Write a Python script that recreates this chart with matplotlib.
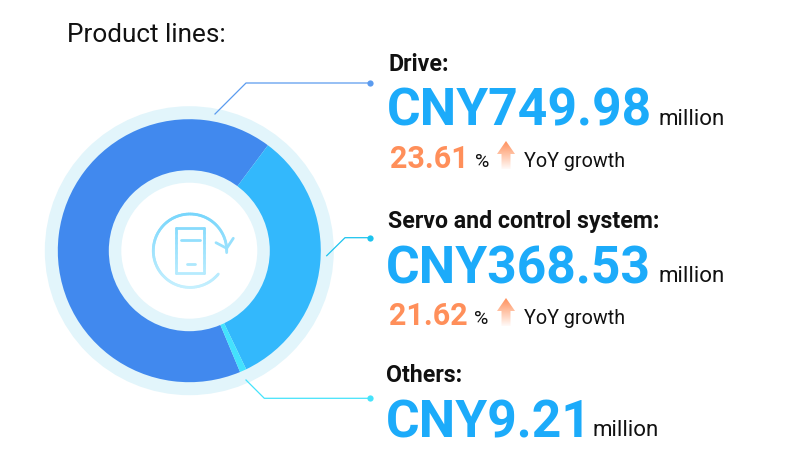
import numpy as np
import matplotlib.pyplot as plt
from matplotlib.patches import Circle, Polygon
from matplotlib.collections import LineCollection
from matplotlib.colors import to_rgb

plt.rcParams["font.family"] = ["Roboto", "DejaVu Sans"]

# Product line revenue, CNY million
products = ["Drive", "Servo and control system", "Others"]
revenue = [749.98, 368.53, 9.21]
revenue_labels = ["CNY749.98", "CNY368.53", "CNY9.21"]
growth_labels = ["23.61", "21.62"]
ring_colors = ["#4189EE", "#33B8FC", "#44E2FD"]

H = 470


def py(y):
    # picture y (top down) to axes y
    return H - y


fig = plt.figure(figsize=(8, 4.7), dpi=100)
ax = fig.add_axes([0, 0, 1, 1])

cx, cy = 189.3, py(250.7)

# rings behind and in the middle of the donut
ax.add_patch(Circle((cx, cy), 144.5, color="#E2F5FB", lw=0, zorder=1))
ax.pie(revenue, colors=ring_colors, center=(cx, cy), radius=131.5,
       startangle=90 - 157.3, counterclock=False, frame=True,
       wedgeprops={"lw": 0, "zorder": 2})
ax.add_patch(Circle((cx, cy), 80.5, color="#E2F5FB", lw=0, zorder=3))
ax.add_patch(Circle((cx, cy), 68, color="white", lw=0, zorder=4))


def icon_color(y):
    # icon fades downwards
    t = np.clip((y - 214) / (288 - 214), 0, 1)
    top, bottom = np.array(to_rgb("#78D6FC")), np.array(to_rgb("#C6F0FE"))
    return top + (bottom - top) * t


def icon_line(xs, ys):
    xs, ys = np.asarray(xs, float), np.asarray(ys, float)
    pts = np.column_stack([xs, py(ys)])
    segs = np.stack([pts[:-1], pts[1:]], axis=1)
    cols = [icon_color(v) for v in (ys[:-1] + ys[1:]) / 2]
    ax.add_collection(LineCollection(segs, colors=cols, lw=2.0, zorder=5,
                                     capstyle="round"))


# center icon, angles clockwise from north
a = np.radians(np.linspace(93, -230.5, 120))
icon_line(190 + 36.7 * np.sin(a), 250.7 - 36.7 * np.cos(a))
icon_line([216, 226.7, 233.3], [242.7, 248.3, 238.3])
icon_line(np.full(10, 175.7), np.linspace(228.3, 272.7, 10))
icon_line(np.full(10, 204.3), np.linspace(228.3, 272.7, 10))
icon_line([175.7, 204.3], [228.3, 228.3])
icon_line([175.7, 204.3], [272.7, 272.7])
icon_line([181, 200], [240, 240])
icon_line([186.5, 194.5], [264, 264])

# leader lines and their end dots
leaders = [
    ([215, 246, 370], [114, 83, 83], "#5B9BEF"),
    ([326.7, 345, 370], [255.7, 237.7, 237.7], "#1BC3EE"),
    ([246, 264.3, 370], [380, 398.3, 398.3], "#45E3FB"),
]
for xs, ys, c in leaders:
    ax.plot(xs, [py(v) for v in ys], color=c, lw=0.9, zorder=5)
    ax.plot(xs[-1], py(ys[-1]), "o", color=c, ms=4.5, mew=0, zorder=6)


def arrow(x, top, bottom):
    # orange arrow fading out at the foot
    grad = np.zeros((64, 2, 4))
    grad[..., :3] = to_rgb("#FF8F5A")
    grad[..., 3] = np.linspace(1, 0.05, 64)[:, None]
    im = ax.imshow(grad, extent=(x - 9, x + 9, py(bottom), py(top)), zorder=5,
                   aspect="auto", interpolation="bilinear")
    head = top + 13
    tri = Polygon([(x, py(top)), (x + 9, py(head)), (x + 4.5, py(head)),
                   (x + 4.5, py(bottom)), (x - 4.5, py(bottom)),
                   (x - 4.5, py(head)), (x - 9, py(head))],
                  transform=ax.transData, fc="none", ec="none")
    ax.add_patch(tri)
    im.set_clip_path(tri)


BLUE = "#1CABFA"
ORANGE = "#FF8F5A"
BLACK = "#111111"

ax.text(67, py(42), "Product lines:", fontsize=18.8, color=BLACK, zorder=7)

ax.text(388, py(71), products[0] + ":", fontsize=16.7, fontweight="bold", color=BLACK)
ax.text(387, py(126), revenue_labels[0], fontsize=37.2, fontweight="bold", color=BLUE)
ax.text(658, py(125), "million", fontsize=16, color=BLACK)
ax.text(390, py(168), growth_labels[0], fontsize=22, fontweight="bold", color=ORANGE)
ax.text(475, py(167), "%", fontsize=14, color=BLACK)
arrow(506, 141, 169)
ax.text(524, py(167), "YoY growth", fontsize=14.2, color=BLACK)

ax.text(388, py(228), products[1] + ":", fontsize=16.7, fontweight="bold", color=BLACK)
ax.text(386, py(283), revenue_labels[1], fontsize=37.2, fontweight="bold", color=BLUE)
ax.text(658, py(282), "million", fontsize=16, color=BLACK)
ax.text(389, py(325), growth_labels[1], fontsize=22, fontweight="bold", color=ORANGE)
ax.text(474, py(324), "%", fontsize=14, color=BLACK)
arrow(506, 298, 326)
ax.text(524, py(324), "YoY growth", fontsize=14.2, color=BLACK)

ax.text(386, py(382), products[2] + ":", fontsize=16.7, fontweight="bold", color=BLACK)
ax.text(386, py(437), revenue_labels[2], fontsize=37.2, fontweight="bold", color=BLUE)
ax.text(593, py(436), "million", fontsize=16, color=BLACK)

ax.set_xlim(0, 800)
ax.set_ylim(0, H)
ax.set_aspect("auto")
ax.axis("off")

fig.savefig("out.png", dpi=100)
